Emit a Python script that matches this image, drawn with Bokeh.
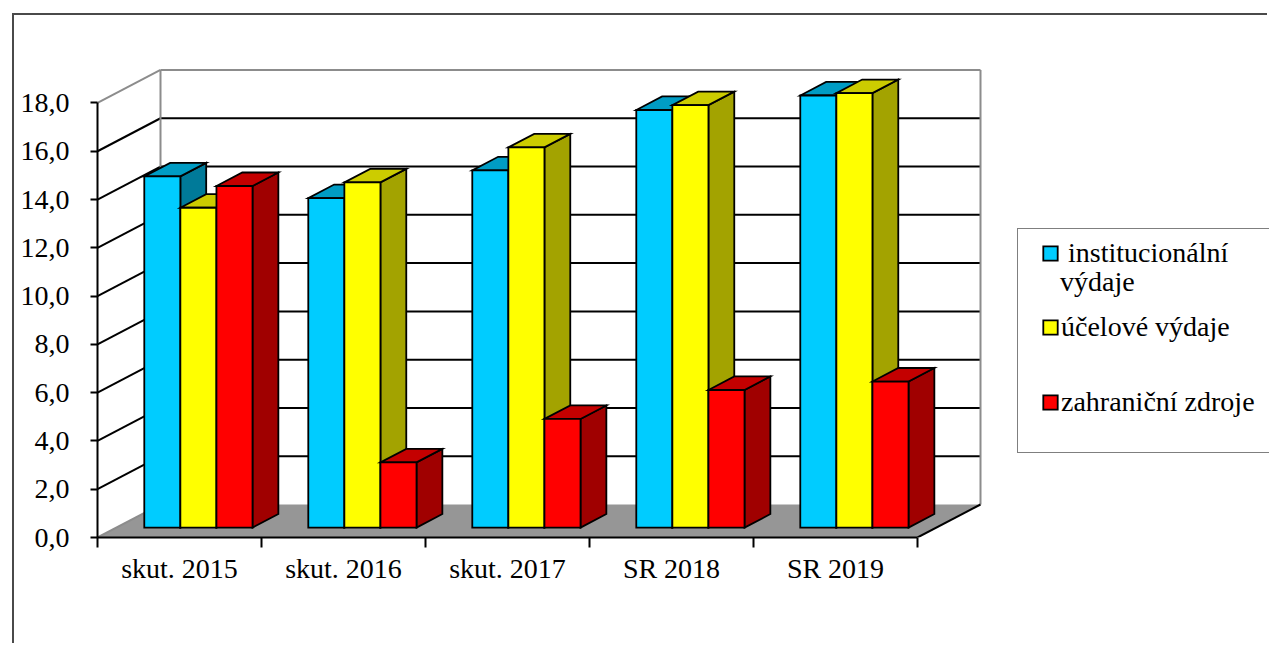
from bokeh.plotting import figure
from bokeh.models import (FixedTicker, CustomJSTickFormatter, Legend, LegendItem, Range1d)
from bokeh.embed import file_html
from bokeh.resources import INLINE

# ---------------- data ----------------
categories = ["skut. 2015", "skut. 2016", "skut. 2017", "SR 2018", "SR 2019"]
series_names = [" institucionální", "účelové výdaje", "zahraniční zdroje"]
series_name_wrap = "výdaje"   # second line of the first legend entry
institucionalni_vydaje = [14.55, 13.65, 14.80, 17.30, 17.90]
ucelove_vydaje = [13.25, 14.30, 15.75, 17.50, 18.00]
zahranicni_zdroje = [14.15, 2.70, 4.50, 5.70, 6.05]
y_tick_values = [0, 2, 4, 6, 8, 10, 12, 14, 16, 18]

# ---------------- style ----------------
series_values = [institucionalni_vydaje, ucelove_vydaje, zahranicni_zdroje]
front_colors = ["#00CCFF", "#FFFF00", "#FF0000"]
top_colors = ["#009CC4", "#CCCC00", "#C40000"]
side_colors = ["#007A99", "#A3A300", "#A00000"]
FONT = "Liberation Serif"
FS = "28px"

W, H = 1255, 630
BL, BT, BB, BR = 83, 45, 108, 0
PX_CAT, PX_VAL = 164.0, 24.14
DX = 63.0 / PX_CAT          # floor depth in x units
DY = 33.0 / PX_VAL          # floor depth in value units
BAR_D0, BAR_D1 = 0.30, 0.71  # bar front / back depth fractions
BAR_W = 0.22
GAP = (1 - 3 * BAR_W) / 2
n_cat = len(categories)
y_top = max(y_tick_values)

p = figure(width=W, height=H, output_backend="svg", toolbar_location=None,
           x_range=Range1d(0, (W - BL - BR) / PX_CAT),
           y_range=Range1d(0, (H - BT - BB) / PX_VAL),
           min_border_left=BL, min_border_top=BT, min_border_bottom=BB,
           min_border_right=BR)
p.margin = (13, 0, 0, 12)
p.styles = {"border-left": "2px solid #4A4A4A", "border-top": "2px solid #4A4A4A"}
p.grid.visible = False
p.outline_line_color = None
p.background_fill_color = "white"
p.border_fill_color = "white"

# ---------------- walls & grid ----------------
inner = [v for v in y_tick_values if 0 < v < y_top]
p.multi_line(xs=[[DX, n_cat + DX] for v in inner], ys=[[v + DY, v + DY] for v in inner],
             line_color="black", line_width=2)
p.multi_line(xs=[[0, DX] for v in inner], ys=[[v, v + DY] for v in inner],
             line_color="black", line_width=2)
p.multi_line(xs=[[DX, DX], [n_cat + DX, n_cat + DX], [DX, n_cat + DX], [0, DX]],
             ys=[[DY, y_top + DY], [DY, y_top + DY], [y_top + DY, y_top + DY], [y_top, y_top + DY]],
             line_color="#8C8C8C", line_width=2)
# floor
p.patch([0, n_cat, n_cat + DX, DX], [0, 0, DY, DY], fill_color="#969696", line_color=None)
p.line([0, DX], [0, DY], line_color="#8C8C8C", line_width=2)
p.line([n_cat, n_cat + DX], [0, DY], line_color="black", line_width=2)

# ---------------- bars ----------------
xs, ys, fills = [], [], []
bdx, bdy = (BAR_D1 - BAR_D0) * DX, (BAR_D1 - BAR_D0) * DY
front_index = {}
for i in range(n_cat):
    for s, vals in enumerate(series_values):
        v = vals[i]
        x0 = i + GAP + s * BAR_W + BAR_D0 * DX
        x1 = x0 + BAR_W
        y0 = BAR_D0 * DY
        y1 = y0 + v
        xs.append([x1, x1 + bdx, x1 + bdx, x1]); ys.append([y0, y0 + bdy, y1 + bdy, y1])
        fills.append(side_colors[s])
        xs.append([x0, x1, x1 + bdx, x0 + bdx]); ys.append([y1, y1, y1 + bdy, y1 + bdy])
        fills.append(top_colors[s])
        xs.append([x0, x1, x1, x0]); ys.append([y0, y0, y1, y1])
        fills.append(front_colors[s])
        front_index.setdefault(s, len(fills) - 1)
bars = p.patches(xs=xs, ys=ys, fill_color=fills, line_color="black", line_width=1.8,
                 line_join="miter")

# ---------------- axes ----------------
xa = p.xaxis[0]
xa.ticker = FixedTicker(ticks=[i + 0.5 for i in range(n_cat)], minor_ticks=list(range(n_cat + 1)))
xa.formatter = CustomJSTickFormatter(args=dict(labels=categories),
                                     code="return labels[Math.floor(tick)];")
xa.bounds = (0, n_cat)
xa.major_tick_in = 0
xa.major_tick_out = 0
xa.major_tick_line_color = None
xa.minor_tick_in = 0
xa.minor_tick_out = 10
xa.minor_tick_line_color = "black"
xa.minor_tick_line_width = 2
xa.axis_line_color = "black"
xa.axis_line_width = 2
xa.major_label_text_font = FONT
xa.major_label_text_font_size = FS
xa.major_label_text_color = "black"
xa.major_label_standoff = 5

ya = p.yaxis[0]
ya.ticker = FixedTicker(ticks=y_tick_values, minor_ticks=[])
ya.formatter = CustomJSTickFormatter(code="return tick.toFixed(1).replace('.', ',');")
ya.bounds = (0, y_top)
ya.major_tick_in = 0
ya.major_tick_out = 7
ya.major_tick_line_color = "black"
ya.major_tick_line_width = 2
ya.minor_tick_line_color = None
ya.axis_line_color = "black"
ya.axis_line_width = 2
ya.major_label_text_font = FONT
ya.major_label_text_font_size = FS
ya.major_label_text_color = "black"
ya.major_label_standoff = 21

# ---------------- legend ----------------
common = dict(margin=0, padding=23, glyph_width=18, glyph_height=18, label_standoff=2,
              label_text_font=FONT, label_text_font_size=FS, label_text_color="black")
legend_box = Legend(items=[LegendItem(label=series_names[s], renderers=[bars], index=front_index[s])
                           for s in (1, 2)],
                    location=(920, 84), spacing=20, label_height=55, label_width=260,
                    title=" ", title_text_font=FONT, title_text_font_size=FS, title_standoff=15,
                    border_line_color="black", border_line_width=1.5,
                    background_fill_color="white", background_fill_alpha=1, **common)
legend_top = Legend(items=[LegendItem(label=series_names[0], renderers=[bars], index=front_index[0])],
                    location=(944, 257), spacing=0, label_height=55, label_width=260,
                    border_line_color=None, background_fill_alpha=0, **common)
# the wrapped second line of the first entry carries no swatch
no_swatch = p.scatter(x=[], y=[], alpha=0)
legend_wrap = Legend(items=[LegendItem(label=series_name_wrap, renderers=[no_swatch])],
                     location=(943, 239), spacing=0, label_height=33, label_width=200,
                     border_line_color=None, background_fill_alpha=0, **common)
p.add_layout(legend_box)
p.add_layout(legend_top)
p.add_layout(legend_wrap)

with open("out.html", "w", encoding="utf-8") as f:
    f.write(file_html(p, INLINE))
